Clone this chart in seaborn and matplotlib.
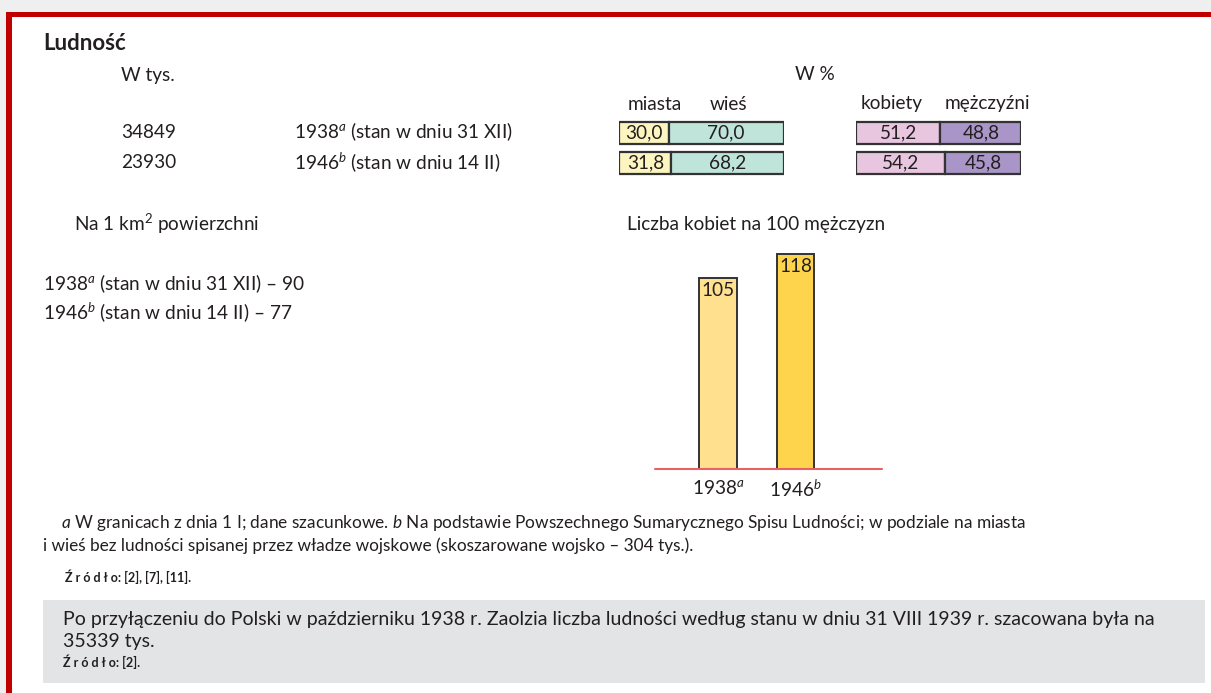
import numpy as np
import pandas as pd
import matplotlib
matplotlib.use('Agg')
import matplotlib.pyplot as plt
import seaborn as sns
from matplotlib import font_manager
from matplotlib.patches import Rectangle

# data
years = ['1938', '1946']
year_labels = ['1938$^{a}$', '1946$^{b}$']
dates = ['(stan w dniu 31 XII)', '(stan w dniu 14 II)']
population_k = [34849, 23930]
urban_pct = [30.0, 31.8]
rural_pct = [70.0, 68.2]
women_pct = [51.2, 54.2]
men_pct = [48.8, 45.8]
density = [90, 77]
women_per_100_men = [105, 118]

W, H = 1211, 693
TXT = '#231f20'
FS = 13.7

sns.set_theme(style='white')
installed = {f.name for f in font_manager.fontManager.ttflist}
main_font = 'Lato' if 'Lato' in installed else 'DejaVu Sans'
plt.rcParams['font.family'] = [main_font, 'DejaVu Sans']
plt.rcParams['mathtext.fontset'] = 'custom'
plt.rcParams['mathtext.rm'] = main_font
plt.rcParams['mathtext.it'] = main_font + ':italic'
plt.rcParams['mathtext.bf'] = main_font + ':bold'


def fx(x):
    return x / W


def fy(y):
    return 1 - y / H


def txt(x, y, s, size=FS, ha='left', **kw):
    return fig.text(fx(x), fy(y), s, ha=ha, va='center', fontsize=size, color=TXT, **kw)


def fit_width(t, target_px):
    # rescale a text so its drawn width matches the reference
    r = fig.canvas.get_renderer()
    w = t.get_window_extent(renderer=r).width
    t.set_fontsize(t.get_fontsize() * target_px / w)
    return t.get_fontsize()


fig = plt.figure(figsize=(W / 100, H / 100), dpi=100)
fig.patch.set_facecolor('white')

# frame: grey margin, red border, grey note box
fig.patches.append(Rectangle((0, fy(12)), 1, 12 / H, transform=fig.transFigure,
                             facecolor='#efefef', edgecolor='none'))
fig.patches.append(Rectangle((0, 0), fx(6), 1, transform=fig.transFigure,
                             facecolor='#efefef', edgecolor='none'))
fig.patches.append(Rectangle((fx(6), fy(17)), 1, 5 / H, transform=fig.transFigure,
                             facecolor='#c00000', edgecolor='none'))
fig.patches.append(Rectangle((fx(6), 0), 6 / W, fy(12), transform=fig.transFigure,
                             facecolor='#c00000', edgecolor='none'))
fig.patches.append(Rectangle((fx(43), fy(683)), (1205 - 43) / W, 83 / H,
                             transform=fig.transFigure,
                             facecolor='#e3e4e6', edgecolor='none'))

# header texts
txt(43, 44, 'Ludność', size=16, fontweight='bold')
txt(121, 75, 'W tys.')
txt(815, 75, 'W %', ha='center')
txt(655, 104, 'miasta', ha='center')
txt(729, 104, 'wieś', ha='center')
txt(892, 104, 'kobiety', ha='center')
txt(987, 104, 'mężczyźni', ha='center')
for i, yy in enumerate([132, 162]):
    txt(121, yy, str(population_k[i]))
    txt(294, yy, f'{year_labels[i]} {dates[i]}')


def stacked(left_px, first, second, colors):
    ax = fig.add_axes([fx(left_px), fy(178), 165 / W, 60 / H])
    rows = np.arange(len(first))
    ax.barh(rows, first, height=0.73, color=colors[0], edgecolor='#333333', linewidth=1.6)
    ax.barh(rows, second, left=first, height=0.73, color=colors[1],
            edgecolor='#333333', linewidth=1.6)
    for r in rows:
        ax.text(first[r] / 2, r, f'{first[r]:.1f}'.replace('.', ','),
                ha='center', va='center', fontsize=FS, color=TXT)
        ax.text(first[r] + second[r] / 2, r, f'{second[r]:.1f}'.replace('.', ','),
                ha='center', va='center', fontsize=FS, color=TXT)
    ax.set_xlim(0, 100)
    ax.set_ylim(1.5, -0.5)
    ax.axis('off')


stacked(619, urban_pct, rural_pct, ['#fdf5c0', '#bfe4d9'])
stacked(856, women_pct, men_pct, ['#e9c6e0', '#a995c7'])

# density
txt(74, 224, 'Na 1 km$^{\\mathrm{2}}$ powierzchni')
for i, yy in enumerate([284, 312]):
    txt(43, yy, f'{year_labels[i]} {dates[i]} – {density[i]}')

# women per 100 men
txt(627, 224, 'Liczba kobiet na 100 mężczyzn')
df = pd.DataFrame({'year': years, 'ratio': women_per_100_men})
top_px = 469 - 120 * 1.82
ax = fig.add_axes([fx(655), fy(469), 227 / W, (469 - top_px) / H])
sns.barplot(data=df, x='year', y='ratio', hue='year', palette=['#fee08f', '#fdd44c'],
            saturation=1, legend=False, width=0.49, edgecolor='#333333',
            linewidth=1.4, ax=ax)
for i, v in enumerate(women_per_100_men):
    ax.text(i, v - 2, str(v), ha='center', va='top', fontsize=FS, color=TXT)
ax.set_xlim(-0.813, 2.116)
ax.set_ylim(0, 120)
ax.axhline(0, color='#e86262', linewidth=1.5, clip_on=False)
ax.set_xticks([0, 1])
ax.set_xticklabels(year_labels, fontsize=FS, color=TXT)
ax.tick_params(axis='x', length=0, pad=7)
ax.set_yticks([])
ax.set_xlabel('')
ax.set_ylabel('')
sns.despine(ax=ax, left=True, bottom=True)
ax.patch.set_alpha(0)

# footnotes
f1 = txt(61, 523, '$a$ W granicach z dnia 1 I; dane szacunkowe. $b$ Na podstawie '
         'Powszechnego Sumarycznego Spisu Ludności; w podziale na miasta', size=10.5)
fsz = fit_width(f1, 969)
txt(43, 546, 'i wieś bez ludności spisanej przez władze wojskowe '
    '(skoszarowane wojsko – 304 tys.).', size=fsz)
txt(65, 577, 'Ź r ó d ł o: [2], [7], [11].', size=9, fontweight='bold')

# note box
n1 = txt(63, 619, 'Po przyłączeniu do Polski w październiku 1938 r. Zaolzia liczba ludności '
         'według stanu w dniu 31 VIII 1939 r. szacowana była na', size=12)
nsz = fit_width(n1, 1085)
txt(63, 641, '35339 tys.', size=nsz)
txt(63, 662, 'Ź r ó d ł o: [2].', size=9, fontweight='bold')

fig.savefig('out.png', dpi=100)
